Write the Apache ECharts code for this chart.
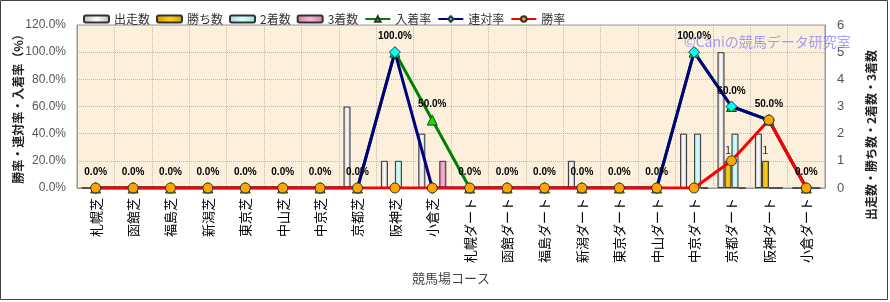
<!DOCTYPE html>
<html>
<head>
<meta charset="utf-8">
<script src="https://cdn.jsdelivr.net/npm/echarts@6/dist/echarts.min.js"></script>
<style>
  html, body { margin: 0; padding: 0; background: #fff; }
  #chart { width: 890px; height: 302px; }
</style>
</head>
<body>
<div id="chart"></div>
<script>
const courses = ["札幌芝", "函館芝", "福島芝", "新潟芝", "東京芝", "中山芝", "中京芝", "京都芝", "阪神芝", "小倉芝",
  "札幌ダート", "函館ダート", "福島ダート", "新潟ダート", "東京ダート", "中山ダート", "中京ダート", "京都ダート", "阪神ダート", "小倉ダート"];

// counts (right axis)
const starts = [0, 0, 0, 0, 0, 0, 0, 3, 1, 2, 0, 0, 0, 1, 0, 0, 2, 5, 2, 0];
const wins   = [0, 0, 0, 0, 0, 0, 0, 0, 0, 0, 0, 0, 0, 0, 0, 0, 0, 1, 1, 0];
const seconds = [0, 0, 0, 0, 0, 0, 0, 0, 1, 0, 0, 0, 0, 0, 0, 0, 2, 2, 0, 0];
const thirds = [0, 0, 0, 0, 0, 0, 0, 0, 0, 1, 0, 0, 0, 0, 0, 0, 0, 0, 0, 0];

// rates in % (left axis)
const placeRate = [0, 0, 0, 0, 0, 0, 0, 0, 100, 50, 0, 0, 0, 0, 0, 0, 100, 60, 50, 0];
const quinellaRate = [0, 0, 0, 0, 0, 0, 0, 0, 100, 0, 0, 0, 0, 0, 0, 0, 100, 60, 50, 0];
const winRate = [0, 0, 0, 0, 0, 0, 0, 0, 0, 0, 0, 0, 0, 0, 0, 0, 0, 20, 50, 0];

const rateTicks = { min: 0, max: 120, interval: 20 };
const countTicks = { min: 0, max: 6, interval: 1 };

const jpFont = '"Noto Sans CJK JP", sans-serif';

const hGrad = (a, b) => new echarts.graphic.LinearGradient(0, 0, 1, 0, [
  { offset: 0, color: a }, { offset: 0.5, color: b }, { offset: 1, color: a }
]);

const barSeries = (name, data, fill, extra) => Object.assign({
  name: name,
  type: "bar",
  yAxisIndex: 1,
  barWidth: 7,
  barGap: 0,
  data: data,
  itemStyle: { color: fill, borderColor: "#333", borderWidth: 1 },
}, extra || {});

const lineSeries = (name, data, color, symbol, size, fill, extra) => Object.assign({
  name: name,
  type: "line",
  data: data,
  symbol: symbol,
  symbolSize: size,
  lineStyle: { color: color, width: 3 },
  itemStyle: { color: fill, borderColor: "#333", borderWidth: 1 },
}, extra || {});

// vertical axis title (reads bottom to top)
const sideTitle = (text, x, y) => ({
  type: "text",
  x: x,
  y: y,
  rotation: Math.PI / 2,
  style: {
    text: text,
    font: "bold 12px " + jpFont,
    fill: "#222",
    align: "center",
    verticalAlign: "middle",
  },
});

const myChart = echarts.init(document.getElementById("chart"));

const options = {
  backgroundColor: "#fff",
  animation: false,
  textStyle: { fontFamily: jpFont },
  legend: {
    left: 78,
    top: 8,
    itemWidth: 25,
    itemHeight: 7,
    itemGap: 6,
    textStyle: { fontSize: 12, color: "#333", fontFamily: jpFont },
    data: ["出走数", "勝ち数", "2着数", "3着数", "入着率", "連対率", "勝率"],
  },
  grid: {
    left: 77,
    right: 65,
    top: 25,
    bottom: 114,
    outerBoundsMode: "none",
    containLabel: false,
    show: true,
    backgroundColor: "#fcf0dc",
    borderColor: "#999",
    borderWidth: 1,
  },
  xAxis: {
    type: "category",
    data: courses,
    name: "競馬場コース",
    nameLocation: "middle",
    nameGap: 84,
    nameMoveOverlap: false,
    nameTextStyle: { fontSize: 13, color: "#444", fontFamily: jpFont },
    axisLine: { lineStyle: { color: "#999" } },
    axisTick: { show: false },
    axisLabel: { rotate: 90, fontSize: 13, color: "#000", margin: 10, interval: 0, fontFamily: jpFont },
    splitLine: { show: true, lineStyle: { color: "#bbb", type: "dotted" } },
  },
  yAxis: [
    {
      type: "value",
      min: rateTicks.min,
      max: rateTicks.max,
      interval: rateTicks.interval,
      axisLine: { show: true, lineStyle: { color: "#999" } },
      axisTick: { show: false },
      axisLabel: { color: "#555", fontSize: 12, margin: 11, fontFamily: "Arial, sans-serif", formatter: (v) => v.toFixed(1) + "%" },
      splitLine: { show: true, lineStyle: { color: "#bbb", type: "dotted" } },
    },
    {
      type: "value",
      min: countTicks.min,
      max: countTicks.max,
      interval: countTicks.interval,
      position: "right",
      axisLine: { show: true, lineStyle: { color: "#999" } },
      axisTick: { show: false },
      axisLabel: { color: "#555", fontSize: 13, margin: 12, fontFamily: "Arial, sans-serif" },
      splitLine: { show: false },
    },
  ],
  graphic: [
    sideTitle("勝率・連対率・入着率（%）", 18, 106),
    sideTitle("出走数・勝ち数・2着数・3着数", 871, 135),
    {
      type: "text",
      x: 684,
      y: 35,
      z: 100,
      style: {
        text: "©Caniの競馬データ研究室",
        font: "14px " + jpFont,
        fill: "rgba(120,120,255,0.7)",
      },
    },
    {
      type: "rect",
      shape: { x: 0.5, y: 0.5, width: 887, height: 299 },
      style: { fill: null, stroke: "#444", lineWidth: 1 },
      silent: true,
    },
  ],
  series: [
    barSeries("出走数", starts, hGrad("#b8b8b8", "#ffffff")),
    barSeries("勝ち数", wins, hGrad("#c89a00", "#ffd21a"), {
      label: {
        show: true,
        position: "top",
        distance: 6,
        fontSize: 11,
        color: "#333",
        formatter: (p) => (p.value > 0 ? String(p.value) : ""),
      },
    }),
    barSeries("2着数", seconds, hGrad("#9fdcdc", "#d8ffff")),
    barSeries("3着数", thirds, hGrad("#d07aa4", "#f7b8d6")),
    lineSeries("入着率", placeRate, "#008000", "triangle", 10, "#00e600", {
      label: {
        show: true,
        position: "top",
        distance: 5,
        fontSize: 10,
        fontWeight: "bold",
        color: "#000",
        fontFamily: "Arial, sans-serif",
        formatter: (p) => p.value.toFixed(1) + "%",
      },
    }),
    lineSeries("連対率", quinellaRate, "#000080", "diamond", 11, "#00ffff"),
    lineSeries("勝率", winRate, "#ff0000", "circle", 10, "#ffa500"),
  ],
};

myChart.setOption(options);
</script>
</body>
</html>
